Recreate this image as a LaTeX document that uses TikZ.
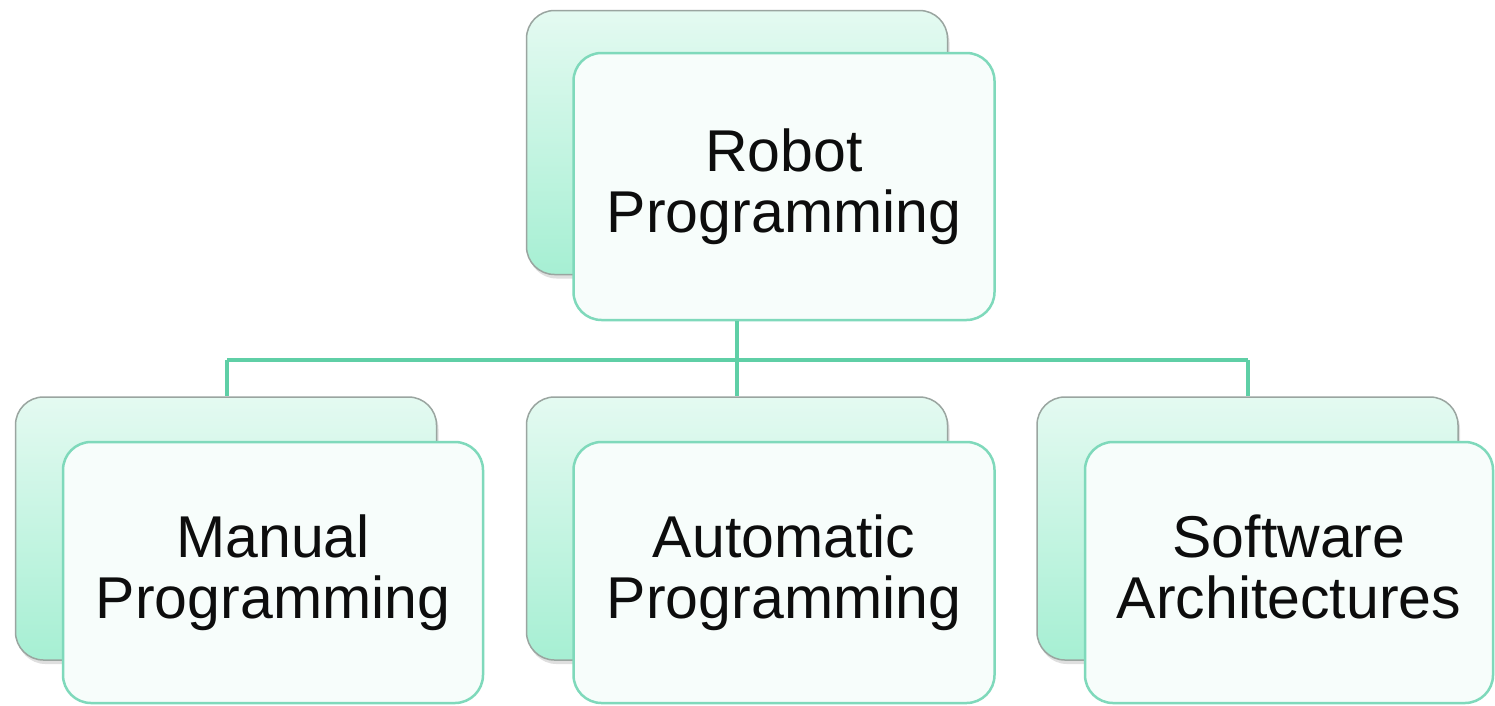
\documentclass[tikz,border=0pt]{standalone}
\usepackage{fontspec}
\setmainfont{Liberation Sans}
\usetikzlibrary{shadows}
\definecolor{mintline}{HTML}{5FCFA6}
\definecolor{mintedge}{HTML}{7FD9BB}
\definecolor{mintlight}{HTML}{E4FAF1}
\definecolor{mintdeep}{HTML}{A6EFD3}
\definecolor{backedge}{HTML}{9AA5A0}
\definecolor{frontfill}{HTML}{F7FDFB}
\tikzset{
  backcard/.style={draw=backedge, line width=1.5pt, rounded corners=28pt,
    top color=mintlight, bottom color=mintdeep,
    drop shadow={shadow xshift=2pt, shadow yshift=-4pt, opacity=0.25},
    minimum width=421pt, minimum height=264pt, inner sep=0pt},
  frontcard/.style={draw=mintedge, line width=2.5pt, rounded corners=28pt,
    fill=frontfill, minimum width=421pt, minimum height=264pt, inner sep=0pt,
    align=center, font=\fontsize{59}{61}\selectfont, text=black!95},
  link/.style={draw=mintline, line width=4.5pt}
}
\begin{document}
\begin{tikzpicture}[x=1pt, y=-1pt]
  \useasboundingbox (0,0) rectangle (1495,705);
  \fill[white] (0,0) rectangle (1495,705);

  % bus points of the tree connector
  \coordinate (bus) at (737,360);
  \coordinate (busL) at (227,360);
  \coordinate (busR) at (1248,360);

  % root
  \node[backcard] (rootback) at (737,142.5) {};
  \node[frontcard, minimum height=267pt] (root) at (784,186.5) {Robot\\Programming};

  % children, back cards
  \node[backcard, minimum height=263pt] (manback) at (226,528.5) {};
  \node[backcard, minimum height=263pt] (autoback) at (737,528.5) {};
  \node[backcard, minimum height=263pt] (softback) at (1247.5,528.5) {};

  % connectors
  \draw[link] (root.south -| bus) -- (bus);
  \draw[link] (busL) -- (busR);
  \draw[link] (busL) -- (manback.north -| busL);
  \draw[link] (bus) -- (autoback.north -| bus);
  \draw[link] (busR) -- (softback.north -| busR);

  % children, front cards
  \node[frontcard, minimum height=261pt, minimum width=420pt] (manual) at (273,572.5) {Manual\\Programming};
  \node[frontcard, minimum height=261pt] (auto) at (784,572.5) {Automatic\\Programming};
  \node[frontcard, minimum height=261pt, minimum width=408pt] (soft) at (1289,572.5) {Software\\Architectures\vphantom{g}};
\end{tikzpicture}
\end{document}
